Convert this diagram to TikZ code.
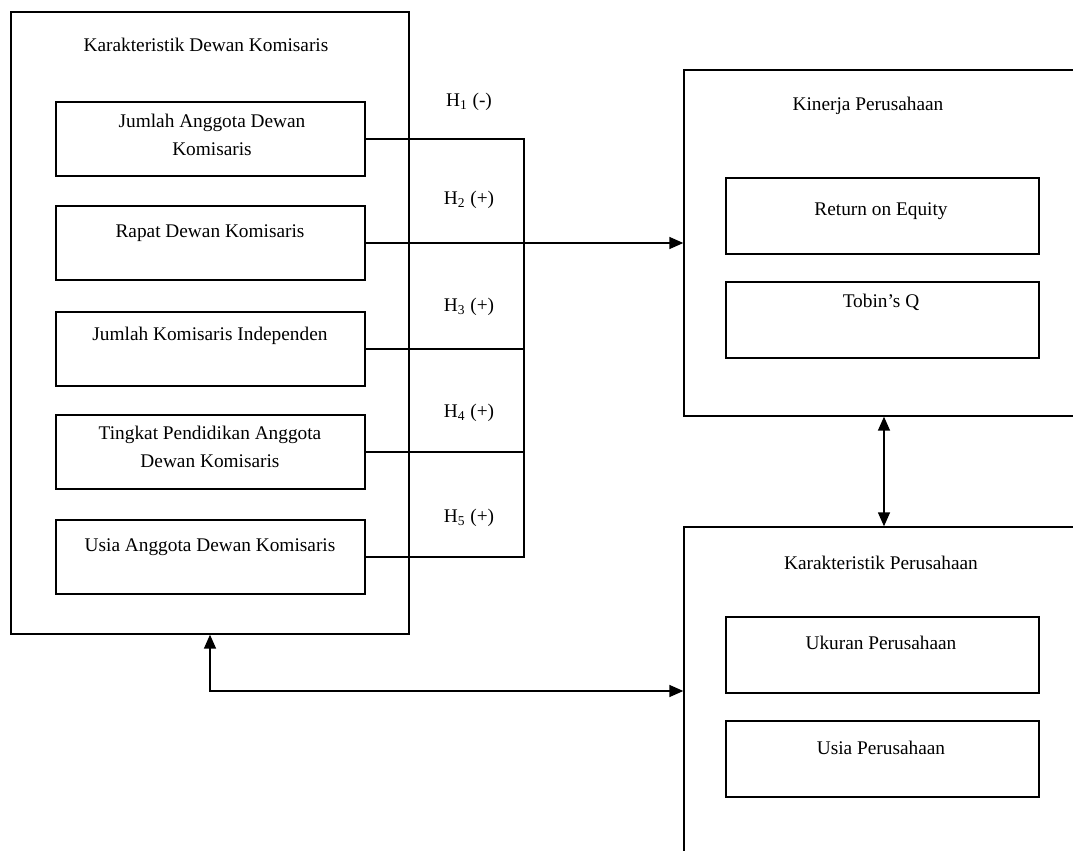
\documentclass[tikz,border=0pt]{standalone}
\usepackage{fontspec}
\setmainfont{Liberation Serif}
\usetikzlibrary{arrows.meta}

\tikzset{
	garis/.style={line width=0.8pt},
	kotakkiri/.style={draw, garis, minimum width=6.18cm, minimum height=1.48cm},
	kotakkanan/.style={draw, garis, minimum width=6.26cm, minimum height=1.52cm}
}

\begin{document}
\begin{tikzpicture}[x=0.02cm, y=-0.02cm, >={Triangle[length=0.28cm,width=0.24cm]}, font=\fontsize{11}{13}\selectfont]
	\useasboundingbox (0,0) rectangle (1073,851);
	\clip (0,0) rectangle (1073,851);

	%karakteristik dewan komisaris
	\node[draw, garis, minimum width=7.96cm, minimum height=12.44cm] (dewan) at (210,323) {};
	\node (tdewan) at (206,45) {Karakteristik Dewan Komisaris};

	\node[kotakkiri] (j1) at (210.5,139) {};
	\node[kotakkiri] (j2) at (210.5,243) {};
	\node[kotakkiri] (j3) at (210.5,349) {};
	\node[kotakkiri] (j4) at (210.5,452) {};
	\node[kotakkiri] (j5) at (210.5,557) {};
	\node[align=center] (tj1) at (212,135) {Jumlah Anggota Dewan\\[3pt]Komisaris};
	\node (tj2) at (210,233) {Rapat Dewan Komisaris};
	\node (tj3) at (210,336) {Jumlah Komisaris Independen};
	\node[align=center] (tj4) at (210,447) {Tingkat Pendidikan Anggota\\[3pt]Dewan Komisaris};
	\node (tj5) at (210,547) {Usia Anggota Dewan Komisaris};

	%kinerja perusahaan
	\node[draw, garis, minimum width=8cm, minimum height=6.92cm] (kinerja) at (884,243) {};
	\node (tkinerja) at (868,106) {Kinerja Perusahaan};
	\node[kotakkanan] (roe) at (882.5,216) {};
	\node[kotakkanan] (tobin) at (882.5,320) {};
	\node (troe) at (881,211) {Return on Equity};
	\node (ttobin) at (881,302) {Tobin’s Q};

	%karakteristik perusahaan
	\node[draw, garis, minimum width=8cm, minimum height=6.56cm] (kp) at (884,691) {};
	\node (tkp) at (881,563) {Karakteristik Perusahaan};
	\node[kotakkanan] (ukuran) at (882.5,655) {};
	\node[kotakkanan] (usia) at (882.5,759) {};
	\node (tukuran) at (881,643) {Ukuran Perusahaan};
	\node (tusia) at (881,748) {Usia Perusahaan};

	%hipotesis
	\coordinate (atas) at (524,139);
	\draw[garis] (j1.east) -- (j1.east -| atas) -- (j5.east -| atas) -- (j5.east);
	\foreach \n in {3,4}{
		\draw[garis] (j\n.east) -- (j\n.east -| atas);
	}
	\draw[garis,->] (j2.east) -- (kinerja.west);

	\node (h1) at (469,102) {H\textsubscript{1} (-)};
	\node (h2) at (469,200) {H\textsubscript{2} (+)};
	\node (h3) at (469,307) {H\textsubscript{3} (+)};
	\node (h4) at (469,413) {H\textsubscript{4} (+)};
	\node (h5) at (469,518) {H\textsubscript{5} (+)};

	\draw[garis,<->] (kinerja.south) -- (kp.north);
	\draw[garis,<->] (dewan.south) |- (kp.west);
\end{tikzpicture}
\end{document}
